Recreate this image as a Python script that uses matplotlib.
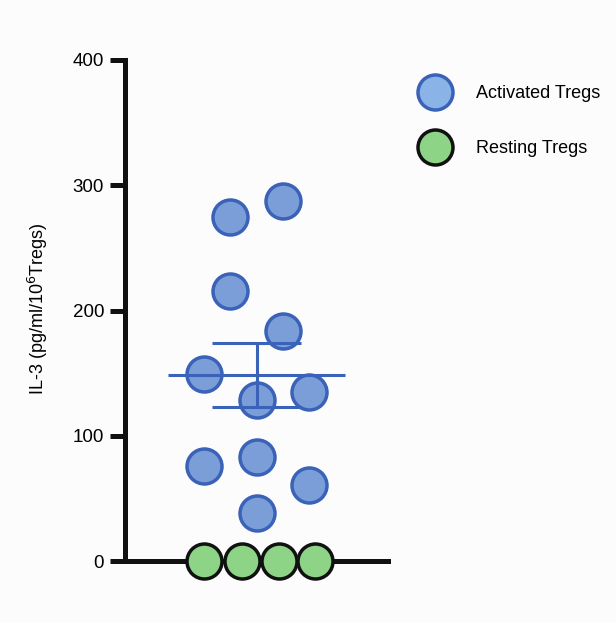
import matplotlib.pyplot as plt
from matplotlib.lines import Line2D
import numpy as np

plt.rcParams['font.family'] = ['Liberation Sans', 'DejaVu Sans']

# IL-3 values (pg/ml/10^6 Tregs)
activated = [274.6, 287.4, 215.6, 183.6, 149.3, 128.5, 134.9, 75.8, 83.0, 60.7, 38.3]
resting = [0, 0, 0, 0]
labels = ['Activated Tregs', 'Resting Tregs']
yticks = [0, 100, 200, 300, 400]

# swarm offsets around the group centre
act_offsets = [-0.2, 0.2, -0.2, 0.2, -0.4, 0.0, 0.4, -0.4, 0.0, 0.4, 0.0]
rest_offsets = [-0.40, -0.11, 0.17, 0.445]

blue_edge = '#3a62b8'
blue_fill = '#7b9ed8'
green_fill = '#8ed486'
ms, mew = 25.2, 2.5

fig = plt.figure(figsize=(6.16, 6.23), dpi=100, facecolor='#fcfcfc')
ax = fig.add_axes([125 / 616, 1 - 561 / 623, 263 / 616, 501 / 623])
ax.set_facecolor('#fcfcfc')

centre = 1.0
ax.plot(centre + np.array(act_offsets), activated, 'o', ms=ms, mew=mew,
        mfc=blue_fill, mec=blue_edge, clip_on=False, zorder=3)
ax.plot(centre + np.array(rest_offsets), resting, 'o', ms=ms, mew=mew,
        mfc=green_fill, mec='#111111', clip_on=False, zorder=4)

mean = np.mean(activated)
sem = np.std(activated, ddof=1) / np.sqrt(len(activated))
ax.hlines(mean, centre - 0.67, centre + 0.67, color=blue_edge, lw=2.2, zorder=5)
ax.hlines([mean - sem, mean + sem], centre - 0.335, centre + 0.335,
          color=blue_edge, lw=2.2, zorder=5)
ax.vlines(centre, mean - sem, mean + sem, color=blue_edge, lw=2.2, zorder=5)

ax.set_xlim(0, 2)
ax.set_ylim(0, 400)
ax.set_xticks([])
ax.set_yticks(yticks)
ax.spines['top'].set_visible(False)
ax.spines['right'].set_visible(False)
for s in ['left', 'bottom']:
    ax.spines[s].set_linewidth(3.6)
    ax.spines[s].set_color('#111111')
ax.tick_params(axis='y', length=11, width=3.6, color='#111111',
               labelsize=13.5, pad=4)
ax.set_ylabel('IL-3 (pg/ml/10$^6$Tregs)', fontsize=13)
ax.yaxis.set_label_coords(-0.285, 0.503)

handles = [Line2D([], [], ls='', marker='o', ms=ms, mew=mew,
                  mfc='#8ab4e8', mec=blue_edge),
           Line2D([], [], ls='', marker='o', ms=ms, mew=mew,
                  mfc=green_fill, mec='#111111')]
fig.legend(handles, labels, loc='upper left', bbox_to_anchor=(410 / 616, 1 - 78 / 623),
           frameon=False, fontsize=13, labelspacing=2.1, handletextpad=1.25,
           borderaxespad=0)

fig.savefig('out.png', dpi=100, facecolor=fig.get_facecolor())
